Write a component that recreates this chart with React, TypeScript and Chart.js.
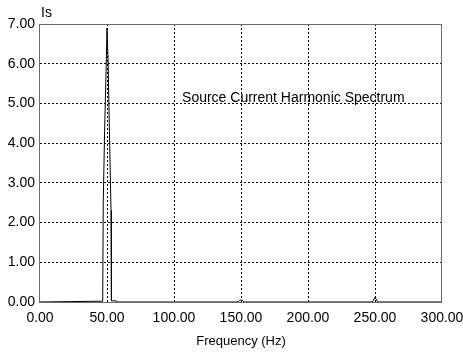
import React, { useEffect, useRef } from "react";
import { Chart, registerables } from "chart.js";

Chart.register(...registerables);

// Frequency (Hz) and source current amplitude (A)
const freqHz = [0, 44.8, 46.8, 47.2, 48.2, 49.3, 50.0, 50.8, 51.8, 53.0, 53.3, 56.7, 57.0, 147.8, 149.0, 150.0, 151.0, 152.2, 248.0, 250.0, 252.0, 300];
const currentA = [0, 0.02, 0.02, 2.5, 4.3, 5.8, 6.9, 6.1, 4.3, 2.3, 0.03, 0.03, 0, 0, 0.04, 0.05, 0.04, 0, 0, 0.12, 0, 0];

const xTicks = [0, 50, 100, 150, 200, 250, 300];
const yTicks = [0, 1, 2, 3, 4, 5, 6, 7];

const yLabel = "Is";
const xLabel = "Frequency (Hz)";
const noteText = "Source Current Harmonic Spectrum";

// anchor of the in-plot note (data coordinates)
const noteX = 106;
const noteY = 5.03;

const FONT = "'Liberation Sans', Arial, sans-serif";

export default function App() {
  const ref = useRef<HTMLCanvasElement | null>(null);

  useEffect(() => {
    document.body.style.margin = "0";
    const canvas = ref.current;
    if (!canvas) return;

    const overlay = {
      id: "overlay",
      afterDraw(chart: any) {
        const { ctx, chartArea } = chart;
        ctx.save();
        ctx.strokeStyle = "#6a6a6a";
        ctx.lineWidth = 1;
        ctx.strokeRect(
          Math.round(chartArea.left) - 0.5,
          Math.round(chartArea.top) + 0.5,
          Math.round(chartArea.right - chartArea.left),
          Math.round(chartArea.bottom - chartArea.top)
        );
        ctx.fillStyle = "#000";
        ctx.font = `14px ${FONT}`;
        ctx.textBaseline = "alphabetic";
        ctx.textAlign = "left";
        ctx.fillText(yLabel, chartArea.left + 1, 17);
        const xs = chart.scales.x;
        const ys = chart.scales.y;
        ctx.fillText(noteText, xs.getPixelForValue(noteX), ys.getPixelForValue(noteY));
        ctx.restore();
      },
    };

    const gridColor = (c: any) =>
      c.tick && (c.tick.value === 0 || c.tick.value === c.scale.max) ? "rgba(0,0,0,0)" : "#000";

    const chart = new Chart(canvas, {
      type: "line",
      data: {
        datasets: [
          {
            data: freqHz.map((f, i) => ({ x: f, y: currentA[i] })),
            borderColor: "#000",
            borderWidth: 1,
            pointRadius: 0,
            tension: 0,
            fill: false,
          },
        ],
      },
      options: {
        animation: false,
        responsive: false,
        maintainAspectRatio: false,
        layout: { padding: { top: 24, right: 21, left: 0, bottom: 0 } },
        plugins: { legend: { display: false }, tooltip: { enabled: false } },
        scales: {
          x: {
            type: "linear",
            min: 0,
            max: 300,
            afterBuildTicks: (s: any) => {
              s.ticks = xTicks.map((v) => ({ value: v }));
            },
            afterFit: (s: any) => {
              s.height = 54;
              s.paddingLeft = 0;
              s.paddingRight = 0;
            },
            border: { display: false, dash: [2, 2] },
            grid: { color: gridColor, drawTicks: false, lineWidth: 1 },
            ticks: {
              padding: 8,
              color: "#000",
              font: { family: FONT, size: 14 },
              maxRotation: 0,
              autoSkip: false,
              callback: (v: any) => Number(v).toFixed(2),
            },
            title: {
              display: true,
              text: xLabel,
              color: "#000",
              font: { family: FONT, size: 13 },
              padding: { top: 0, bottom: 7 },
            },
          },
          y: {
            min: 0,
            max: 7,
            afterBuildTicks: (s: any) => {
              s.ticks = yTicks.map((v) => ({ value: v }));
            },
            afterFit: (s: any) => {
              s.width = 40;
              s.paddingTop = 0;
              s.paddingBottom = 0;
            },
            border: { display: false, dash: [2, 2] },
            grid: { color: gridColor, drawTicks: false, lineWidth: 1 },
            ticks: {
              padding: 5,
              color: "#000",
              font: { family: FONT, size: 14 },
              autoSkip: false,
              callback: (v: any) => Number(v).toFixed(2),
            },
          },
        },
      },
      plugins: [overlay],
    });

    return () => chart.destroy();
  }, []);

  return (
    <div style={{ position: "absolute", left: 0, top: 0, width: 463, height: 356 }}>
      <canvas ref={ref} width={463} height={356} style={{ width: 463, height: 356 }} />
    </div>
  );
}
